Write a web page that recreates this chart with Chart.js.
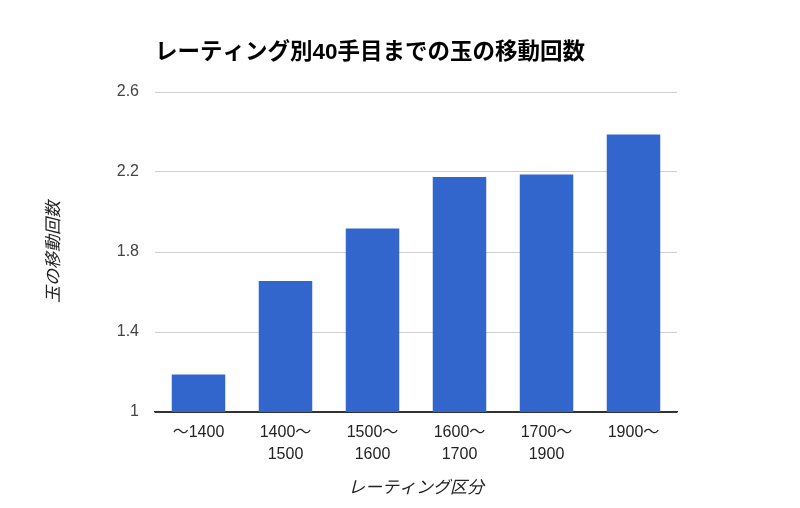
<!DOCTYPE html>
<html>
<head>
<meta charset="utf-8">
<script src="https://cdn.jsdelivr.net/npm/chart.js@4"></script>
<style>
  html, body { margin: 0; padding: 0; background: #fff; }
  #wrap { width: 800px; height: 508px; }
</style>
</head>
<body>
<div id="wrap"><canvas id="chart" width="800" height="508"></canvas></div>
<script>
// data
const categories = ['〜1400', ['1400〜', '1500'], ['1500〜', '1600'], ['1600〜', '1700'], ['1700〜', '1900'], '1900〜'];
const moves = [1.187, 1.655, 1.917, 2.175, 2.188, 2.387];
const yTicks = [1, 1.4, 1.8, 2.2, 2.6];

const FONT = "'Liberation Sans', Arial, 'Noto Sans CJK JP', sans-serif";

const ctx = document.getElementById('chart').getContext('2d');
const chart = new Chart(ctx, {
  type: 'bar',
  data: {
    labels: categories,
    datasets: [{
      data: moves,
      backgroundColor: '#3366cc',
      borderWidth: 0,
      barPercentage: 0.615,
      categoryPercentage: 1
    }]
  },
  options: {
    responsive: false,
    animation: false,
    layout: { padding: { left: 0, right: 123, top: 0, bottom: 0 } },
    plugins: {
      legend: { display: false },
      tooltip: { enabled: false },
      title: {
        display: true,
        text: 'レーティング別40手目までの玉の移動回数',
        align: 'start',
        fullSize: false,
        color: '#000',
        font: { family: FONT, size: 22.5, weight: 'bold', lineHeight: 1.2 },
        padding: { top: 39, bottom: 26 }
      }
    },
    scales: {
      x: {
        grid: { display: false, drawTicks: false },
        border: { display: true, color: '#333', width: 1.5 },
        ticks: {
          color: '#222',
          padding: 10,
          maxRotation: 0,
          autoSkip: false,
          font: { family: FONT, size: 16, lineHeight: 1.375 }
        },
        title: {
          display: true,
          text: 'レーティング区分',
          color: '#222',
          font: { family: FONT, size: 17, style: 'italic', lineHeight: 1.2 },
          padding: { top: 0, bottom: 10 }
        },
        afterFit: (scale) => { scale.height = 96; }
      },
      y: {
        min: yTicks[0],
        max: yTicks[yTicks.length - 1],
        afterBuildTicks: (scale) => { scale.ticks = yTicks.map(v => ({ value: v })); },
        grid: {
          drawTicks: false,
          color: (c) => (c.tick && c.tick.value === yTicks[0]) ? '#333' : '#d0d0d0',
          lineWidth: 1
        },
        border: { display: false },
        ticks: {
          color: '#444',
          padding: 16,
          font: { family: FONT, size: 16 },
          callback: (v) => String(Math.round(v * 10) / 10)
        },
        title: {
          display: true,
          text: '玉の移動回数',
          color: '#222',
          font: { family: FONT, size: 17, style: 'italic', lineHeight: 1.2 },
          padding: { top: 44, bottom: 0 }
        },
        afterFit: (scale) => { scale.width = 155; }
      }
    }
  }
});
</script>
</body>
</html>
